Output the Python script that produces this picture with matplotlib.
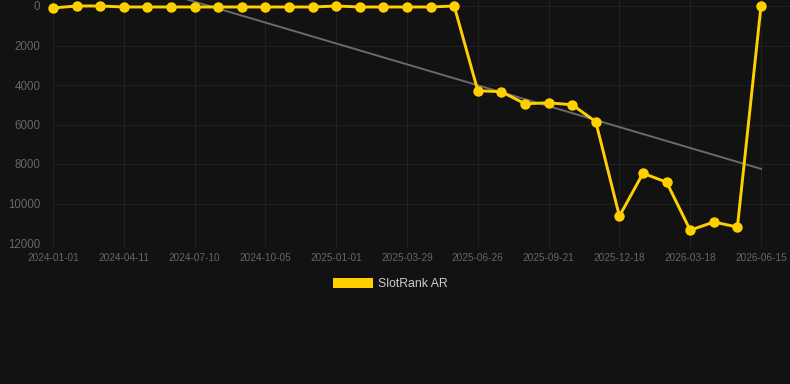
import numpy as np
import matplotlib
matplotlib.use("Agg")
import matplotlib.pyplot as plt
from matplotlib.patches import Patch

# rank per snapshot (lower is better, axis inverted)
ranks = [100, 0, 0, 50, 50, 50, 50, 50, 50, 50, 50, 50, 0, 50, 50, 50, 50, 0,
         4290, 4340, 4950, 4900, 5000, 5860, 10640, 8470, 8920, 11350, 10940, 11190, 0]
tick_labels = ['2024-01-01', '2024-04-11', '2024-07-10', '2024-10-05', '2025-01-01',
               '2025-03-29', '2025-06-26', '2025-09-21', '2025-12-18', '2026-03-18',
               '2026-06-15']
y_ticks = [0, 2000, 4000, 6000, 8000, 10000, 12000]
series_name = 'SlotRank AR'

BG = '#121212'
YELLOW = '#FFD000'
GRID = '#202020'
TXT = '#666666'

plt.rcParams['font.family'] = ['Liberation Sans', 'DejaVu Sans']

fig = plt.figure(figsize=(7.9, 3.84), dpi=100, facecolor=BG)
# plot area runs to the top edge, value 0 sits ~6px below it
ax = fig.add_axes([53 / 790, 1 - 243 / 384, 1 - 53 / 790, 243 / 384], facecolor=BG)

x = np.arange(len(ranks))
slope, icpt = np.polyfit(x, ranks, 1)
ax.plot(x, slope * x + icpt, color='#6a6a6a', linewidth=1.4, zorder=2)
ax.plot(x, ranks, color=YELLOW, linewidth=2.1, marker='o', markersize=7.5,
        markeredgewidth=0, zorder=3, clip_on=False)

ax.set_ylim(12000, -12000 * 6 / 237)
ax.set_xlim(0, (790 - 53) / 23.6)
ax.set_yticks(y_ticks)
ax.set_yticklabels([str(v) for v in y_ticks])
ax.set_xticks(x[::3])
ax.set_xticklabels(tick_labels)

ax.grid(True, color=GRID, linewidth=0.8)
ax.set_axisbelow(True)
for s in ax.spines.values():
    s.set_visible(False)
ax.tick_params(axis='y', length=0, pad=9, labelsize=8.3, labelcolor=TXT)
ax.tick_params(axis='x', length=3, color=GRID, pad=4.5, labelsize=7.2, labelcolor=TXT)

fig.legend(handles=[Patch(facecolor=YELLOW, edgecolor='none', label=series_name)],
           loc='center', bbox_to_anchor=(0.494, 1 - 284 / 384), frameon=False,
           fontsize=8.8, labelcolor='#cccccc', handlelength=3.3, handleheight=0.95,
           handletextpad=0.45)

fig.savefig('out.png', dpi=100, facecolor=BG)
